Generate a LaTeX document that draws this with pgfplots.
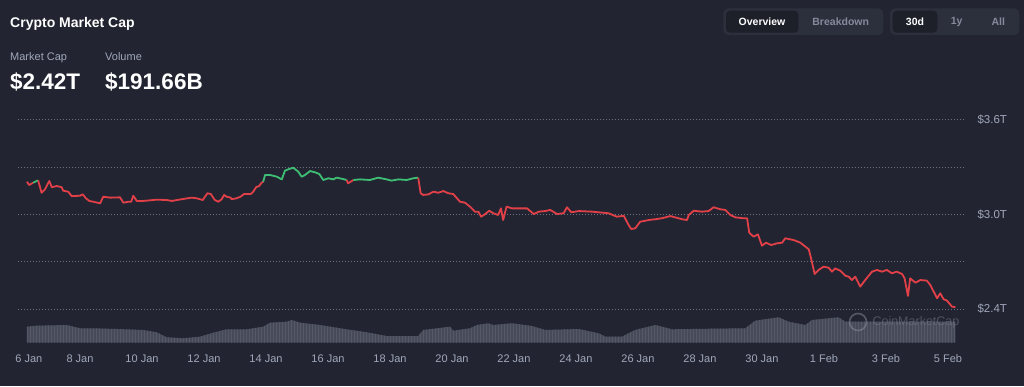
\documentclass[border=0pt]{standalone}
\usepackage{pgfplots}
\pgfplotsset{compat=1.18}
\usepackage{pgfplotstable}
\usepackage{fontspec}
\setmainfont{Liberation Sans}
\usetikzlibrary{patterns}
\definecolor{bgc}{HTML}{222531}
\definecolor{grp}{HTML}{2C2F3C}
\definecolor{sel}{HTML}{1D2029}
\definecolor{txtgray}{HTML}{A1A7BB}
\definecolor{btngray}{HTML}{858A9C}
\definecolor{gridc}{HTML}{6E7180}
\definecolor{upc}{RGB}{62,190,116}
\definecolor{downc}{RGB}{226,64,72}
\definecolor{volc}{HTML}{474B59}
\definecolor{volstripe}{HTML}{555966}

\pgfplotstableread{
t v
0.29 3.208
0.36 3.187
0.49 3.202
0.65 3.217
0.76 3.138
0.87 3.160
1.01 3.213
1.09 3.173
1.25 3.181
1.41 3.173
1.46 3.151
1.62 3.145
1.73 3.117
2.00 3.119
2.09 3.128
2.19 3.103
2.30 3.086
2.43 3.081
2.65 3.071
2.75 3.113
2.97 3.107
3.29 3.109
3.40 3.075
3.56 3.081
3.65 3.081
3.72 3.119
3.83 3.086
4.04 3.086
4.47 3.094
4.80 3.092
4.96 3.086
5.28 3.097
5.60 3.107
5.76 3.103
5.96 3.092
6.11 3.135
6.22 3.130
6.35 3.092
6.46 3.081
6.57 3.097
6.65 3.124
6.73 3.113
6.86 3.107
6.89 3.097
7.05 3.103
7.18 3.113
7.29 3.130
7.51 3.130
7.59 3.145
7.68 3.173
7.78 3.181
7.86 3.202
7.91 3.208
7.97 3.251
8.13 3.251
8.35 3.240
8.51 3.223
8.61 3.278
8.72 3.287
8.88 3.297
9.04 3.272
9.15 3.240
9.26 3.251
9.42 3.276
9.58 3.268
9.72 3.257
9.85 3.219
10.01 3.230
10.17 3.223
10.28 3.234
10.49 3.225
10.60 3.219
10.65 3.198
10.82 3.219
11.03 3.223
11.35 3.219
11.62 3.234
11.89 3.223
12.05 3.215
12.27 3.223
12.54 3.219
12.75 3.230
12.91 3.234
12.99 3.135
13.07 3.124
13.24 3.128
13.40 3.145
13.56 3.138
13.72 3.149
13.88 3.135
14.04 3.130
14.26 3.081
14.42 3.075
14.58 3.050
14.74 3.018
14.85 3.018
14.94 2.986
15.06 3.001
15.20 3.024
15.33 3.008
15.49 2.997
15.58 3.039
15.65 2.965
15.76 3.050
15.93 3.039
16.15 3.039
16.42 3.039
16.64 3.003
16.80 3.018
17.01 3.022
17.17 3.029
17.39 3.003
17.60 3.008
17.71 3.046
17.85 3.014
18.09 3.022
18.52 3.018
18.73 3.014
19.05 3.008
19.32 2.986
19.54 2.992
19.70 2.933
19.78 2.908
19.91 2.912
20.07 2.954
20.35 2.965
20.56 2.970
20.77 2.976
21.04 2.990
21.31 2.976
21.42 2.970
21.58 2.965
21.64 2.997
21.80 3.024
22.06 3.018
22.28 3.022
22.44 3.046
22.66 3.033
22.82 3.029
22.98 2.997
23.14 2.982
23.41 2.976
23.52 2.976
23.59 2.884
23.73 2.859
23.87 2.874
24.00 2.802
24.13 2.821
24.30 2.806
24.48 2.817
24.65 2.821
24.75 2.849
25.02 2.838
25.24 2.821
25.40 2.796
25.51 2.779
25.59 2.716
25.70 2.622
25.83 2.648
25.99 2.669
26.15 2.662
26.26 2.637
26.36 2.658
26.53 2.643
26.69 2.611
26.80 2.605
26.90 2.584
27.01 2.605
27.17 2.542
27.33 2.584
27.55 2.637
27.71 2.648
27.87 2.637
28.03 2.648
28.19 2.627
28.35 2.637
28.52 2.622
28.60 2.595
28.71 2.483
28.78 2.595
28.95 2.567
29.11 2.584
29.32 2.580
29.43 2.552
29.54 2.510
29.65 2.468
29.75 2.500
29.86 2.462
29.97 2.453
30.13 2.415
30.24 2.411
}\mcap

\pgfplotstableread{
t vol
0.29 16.0
0.60 17.0
1.57 17.7
2.00 14.4
2.43 14.4
3.18 13.7
4.04 12.7
4.47 10.4
4.80 5.4
5.33 4.4
5.87 6.0
6.30 10.0
6.73 13.4
7.38 13.4
7.91 16.0
8.13 20.0
8.67 21.0
8.83 22.7
9.10 20.0
9.74 17.7
10.60 13.4
11.25 10.4
11.89 6.7
12.91 6.7
13.07 12.7
13.94 16.0
14.04 12.0
14.58 14.4
14.80 17.7
15.17 19.4
15.33 17.7
15.94 19.4
16.58 16.7
17.01 12.7
18.09 13.7
18.73 9.4
18.95 6.0
19.48 6.0
19.91 12.7
20.56 17.7
21.10 13.4
22.39 14.0
23.46 14.4
23.78 22.0
24.54 25.4
24.86 21.0
25.40 17.7
25.61 22.7
26.47 25.4
26.69 21.0
27.76 21.0
30.24 21.0
}\volume

\begin{document}
\begin{tikzpicture}
\useasboundingbox (0pt,0pt) rectangle (1024pt,386pt);
\fill[bgc] (0pt,0pt) rectangle (1024pt,386pt);

% header texts
\node[anchor=base west, inner sep=0pt, text=white, font=\fontsize{14}{16}\selectfont\bfseries] at (10pt,358.5pt) {Crypto Market Cap};
\node[anchor=base west, inner sep=0pt, text=txtgray, font=\fontsize{11}{13}\selectfont] at (10pt,325pt) {Market Cap};
\node[anchor=base west, inner sep=0pt, text=txtgray, font=\fontsize{11}{13}\selectfont] at (105pt,325pt) {Volume};
\node[anchor=base west, inner sep=0pt, text=white, font=\fontsize{22.5}{26}\selectfont\bfseries] at (10pt,296pt) {\$2.42T};
\node[anchor=base west, inner sep=0pt, text=white, font=\fontsize{22.5}{26}\selectfont\bfseries] at (105pt,296pt) {\$191.66B};

% buttons
\fill[grp, rounded corners=5pt] (723.3pt,351pt) rectangle (883.3pt,377.7pt);
\fill[sel, rounded corners=4pt] (726pt,353.3pt) rectangle (798.3pt,375.3pt);
\node[text=white, font=\fontsize{10.5}{12}\selectfont\bfseries] at (762pt,364.3pt) {Overview};
\node[text=btngray, font=\fontsize{10.5}{12}\selectfont\bfseries] at (840.7pt,364.3pt) {Breakdown};
\fill[grp, rounded corners=5pt] (890pt,351pt) rectangle (1019.3pt,377.7pt);
\fill[sel, rounded corners=4pt] (892.7pt,353.3pt) rectangle (937.3pt,375.3pt);
\node[text=white, font=\fontsize{10.5}{12}\selectfont\bfseries] at (915pt,364.3pt) {30d};
\node[text=btngray, font=\fontsize{10.5}{12}\selectfont\bfseries] at (956.7pt,364.3pt) {1y};
\node[text=btngray, font=\fontsize{10.5}{12}\selectfont\bfseries] at (998.3pt,364.3pt) {All};

% volume axis
\begin{axis}[
  at={(18pt,43.3pt)}, anchor=south west,
  scale only axis, width=947pt, height=30pt,
  xmin=0, xmax=30.55, ymin=0, ymax=30,
  hide axis, clip=false,
]
\addplot[draw=none, fill=volc, postaction={pattern=vertical lines, pattern color=volstripe}] table[x=t,y=vol] {\volume} \closedcycle;
\end{axis}

% watermark
\draw[gridc!80, opacity=0.5, line width=1.6pt] (858pt,64pt) circle (8.5pt);
\node[anchor=west, text=gridc!90, opacity=0.5, font=\fontsize{12.5}{14}\selectfont] at (869pt,63.5pt) {CoinMarketCap};

% main axis
\begin{axis}[
  at={(18pt,77pt)}, anchor=south west,
  scale only axis, width=947pt, height=189pt,
  xmin=0, xmax=30.55, ymin=2.4, ymax=3.6,
  clip=false,
  axis line style={draw=none},
  major tick length=0pt,
  ytick={2.4,2.7,3.0,3.3,3.6},
  yticklabels={\$2.4T,,\$3.0T,,\$3.6T},
  yticklabel pos=right,
  yticklabel style={anchor=west, xshift=9pt, text=txtgray, font=\fontsize{11.5}{13}\selectfont},
  xtick={0.35,2,4,6,8,10,12,14,16,18,20,22,24,26,28,30},
  xticklabels={6 Jan,8 Jan,10 Jan,12 Jan,14 Jan,16 Jan,18 Jan,20 Jan,22 Jan,24 Jan,26 Jan,28 Jan,30 Jan,1 Feb,3 Feb,5 Feb},
  xticklabel style={anchor=base, yshift=-53pt, text=txtgray, font=\fontsize{11}{13}\selectfont},
  ymajorgrids,
  grid style={gridc, line width=1pt, dash pattern=on 1pt off 2pt},
]
\addplot[downc, line width=1.8pt, line join=round, restrict x to domain=0:0.495] table[x=t,y=v] {\mcap};
\addplot[upc, line width=1.8pt, line join=round, restrict x to domain=0.485:0.655] table[x=t,y=v] {\mcap};
\addplot[downc, line width=1.8pt, line join=round, restrict x to domain=0.645:7.915] table[x=t,y=v] {\mcap};
\addplot[upc, line width=1.8pt, line join=round, restrict x to domain=7.905:10.605] table[x=t,y=v] {\mcap};
\addplot[downc, line width=1.8pt, line join=round, restrict x to domain=10.595:10.825] table[x=t,y=v] {\mcap};
\addplot[upc, line width=1.8pt, line join=round, restrict x to domain=10.815:12.915] table[x=t,y=v] {\mcap};
\addplot[downc, line width=1.8pt, line join=round, restrict x to domain=12.905:31] table[x=t,y=v] {\mcap};
\end{axis}
\end{tikzpicture}
\end{document}
